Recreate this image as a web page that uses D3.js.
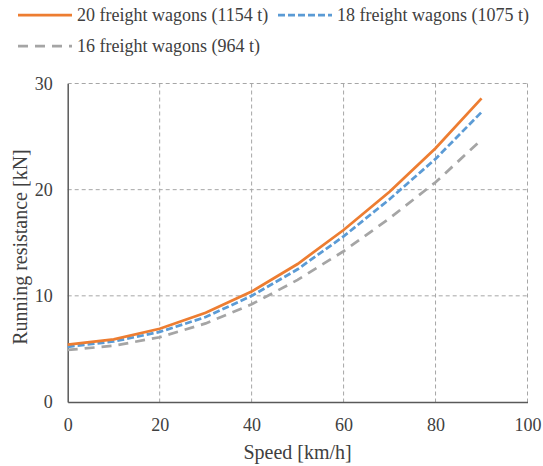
<!DOCTYPE html>
<html><head><meta charset="utf-8">
<script src="https://cdn.jsdelivr.net/npm/d3@7"></script>
<style>
body{margin:0;background:#fff;font-family:'Liberation Serif',serif}
svg{display:block}
svg text{font-family:'Liberation Serif',serif}
</style>
</head><body><svg id="c" width="543" height="466"></svg>
<script>
const speeds = [0,10,20,30,40,50,60,70,80,90];
const wagons20 = [5.4,5.9,6.9,8.4,10.4,13.0,16.2,19.8,23.9,28.6];
const wagons18 = [5.2,5.7,6.6,8.0,10.0,12.5,15.6,19.1,22.9,27.3];
const wagons16 = [4.9,5.3,6.1,7.4,9.2,11.5,14.2,17.3,20.7,24.7];
const seriesNames = ["20 freight wagons (1154 t)","18 freight wagons (1075 t)","16 freight wagons (964 t)"];
const xTicks = [0,20,40,60,80,100];
const yTicks = [0,10,20,30];

const FONT = "Liberation Serif";
const svg = d3.select("#c");
const L=67.7, R=527.5, T=83.5, B=402;
const x = d3.scaleLinear().domain([0,100]).range([L,R]);
const y = d3.scaleLinear().domain([0,30]).range([B,T]);

const grid = svg.append("g").attr("stroke","#a6a6a6").attr("stroke-width",1).attr("stroke-dasharray","4,3");
xTicks.filter(d=>d>0).forEach(d=>grid.append("line").attr("x1",x(d)).attr("x2",x(d)).attr("y1",T).attr("y2",B));
yTicks.filter(d=>d>0).forEach(d=>grid.append("line").attr("x1",L).attr("x2",R).attr("y1",y(d)).attr("y2",y(d)));

const xAxis = svg.append("g").attr("transform",`translate(0,${B})`).call(d3.axisBottom(x).tickValues(xTicks).tickSize(0).tickPadding(16));
const yAxis = svg.append("g").attr("transform",`translate(${L},0)`).call(d3.axisLeft(y).tickValues(yTicks).tickSize(0).tickPadding(15));
[xAxis,yAxis].forEach(a=>{
  a.attr("font-family",FONT).attr("font-size",18);
  a.select(".domain").attr("stroke","#595959").attr("stroke-width",1.5);
  a.selectAll("text").attr("font-family",FONT).attr("font-size",18).attr("fill","#404040");
});

const styles=[{c:"#ed7d31",d:null,w:2.75},{c:"#5b9bd5",d:"7,3",w:2.75},{c:"#a5a5a5",d:"10,7",w:2.75}];
const data=[wagons20,wagons18,wagons16];
const line=d3.line().x((d,i)=>x(speeds[i])).y(d=>y(d));
[2,1,0].forEach(k=>{
  svg.append("path").datum(data[k]).attr("d",line).attr("fill","none").attr("stroke",styles[k].c).attr("stroke-width",styles[k].w).attr("stroke-dasharray",styles[k].d);
});

function txt(){ return svg.append("text").attr("font-family",FONT).attr("fill","#404040"); }
txt().attr("x",(L+R)/2).attr("y",459).attr("text-anchor","middle").attr("font-size",20).text("Speed [km/h]");
txt().attr("transform",`translate(27,247) rotate(-90)`).attr("text-anchor","middle").attr("font-size",20).text("Running resistance [kN]");

const leg=[{x:18,y:15},{x:278,y:15},{x:18,y:46}];
leg.forEach((p,k)=>{
  svg.append("line").attr("x1",p.x).attr("x2",p.x+54).attr("y1",p.y).attr("y2",p.y).attr("stroke",styles[k].c).attr("stroke-width",styles[k].w).attr("stroke-dasharray",styles[k].d);
  txt().attr("x",p.x+59).attr("y",p.y+6).attr("font-size",18).text(seriesNames[k]);
});
</script></body></html>
